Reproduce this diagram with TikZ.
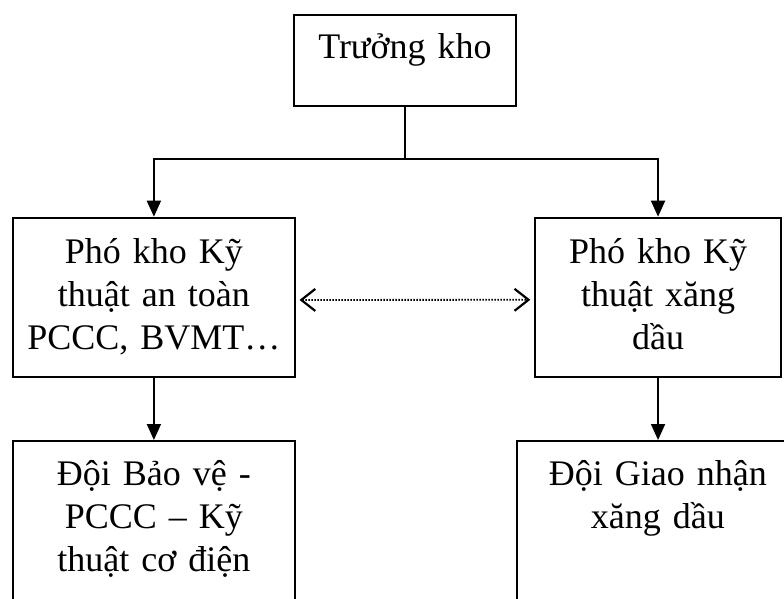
\documentclass[tikz,border=0pt]{standalone}
\usepackage{fontspec}
\setmainfont{Liberation Serif}
\usetikzlibrary{arrows.meta}

\tikzset{
  unit/.style={draw, line width=1.8pt, inner sep=0pt, anchor=north west,
    text width=#1, align=center, text height=45pt,
    font=\fontsize{36pt}{43pt}\selectfont},
  link/.style={line width=1.8pt},
  down/.style={link, -{Triangle[length=16pt,width=14pt]}},
  peer/.style={line width=1.8pt, dash pattern=on 1.4pt off 1.6pt,
    {Straight Barb[length=14pt,width=22pt,line width=2.2pt]}-{Straight Barb[length=14pt,width=22pt,line width=2.2pt]}}
}

\begin{document}
\begin{tikzpicture}[x=1pt,y=-1pt]
\useasboundingbox (0,0) rectangle (784,599);
\clip (0,0) rectangle (784,599);

%% boxes
\node[unit=222.6pt, text height=44pt, text depth=47.2pt] (chief) at (292.7,13.8) {Trưởng kho};
\node[unit=281.4pt, text height=46pt, text depth=113.3pt] (safety) at (12.3,216.7)
  {Phó kho Kỹ\\ thuật an toàn\hspace*{20pt}\\ PCCC, BVMT…\hspace*{18pt}};
\node[unit=245.7pt, text height=45.5pt, text depth=113.5pt] (fuel) at (534.3,216.7)
  {Phó kho Kỹ\\ thuật xăng\\ dầu};
\node[unit=281.4pt, text depth=170pt] (guard) at (12.3,440)
  {Đội Bảo vệ -\\ PCCC – Kỹ\hspace*{22pt}\\ thuật cơ điện\hspace*{18pt}};
\node[unit=282.6pt, text depth=170pt] (delivery) at (515.7,440)
  {Đội Giao nhận\\ xăng dầu\hspace*{20pt}};

%% connectors
\draw[link] (chief.south) -- ++(0,52.5) coordinate (fork);
\draw[down] (fork) -| (safety.north);
\draw[down] (fork) -| (fuel.north);
\draw[down] (safety.south) -- (guard.north);
\draw[down] (fuel.south) -- (fuel.south |- delivery.north);

%% peer link
\draw[peer] ([xshift=4pt,yshift=-2.7pt]safety.east) -- ([xshift=-4pt,yshift=-2.7pt]fuel.west);
\end{tikzpicture}
\end{document}
